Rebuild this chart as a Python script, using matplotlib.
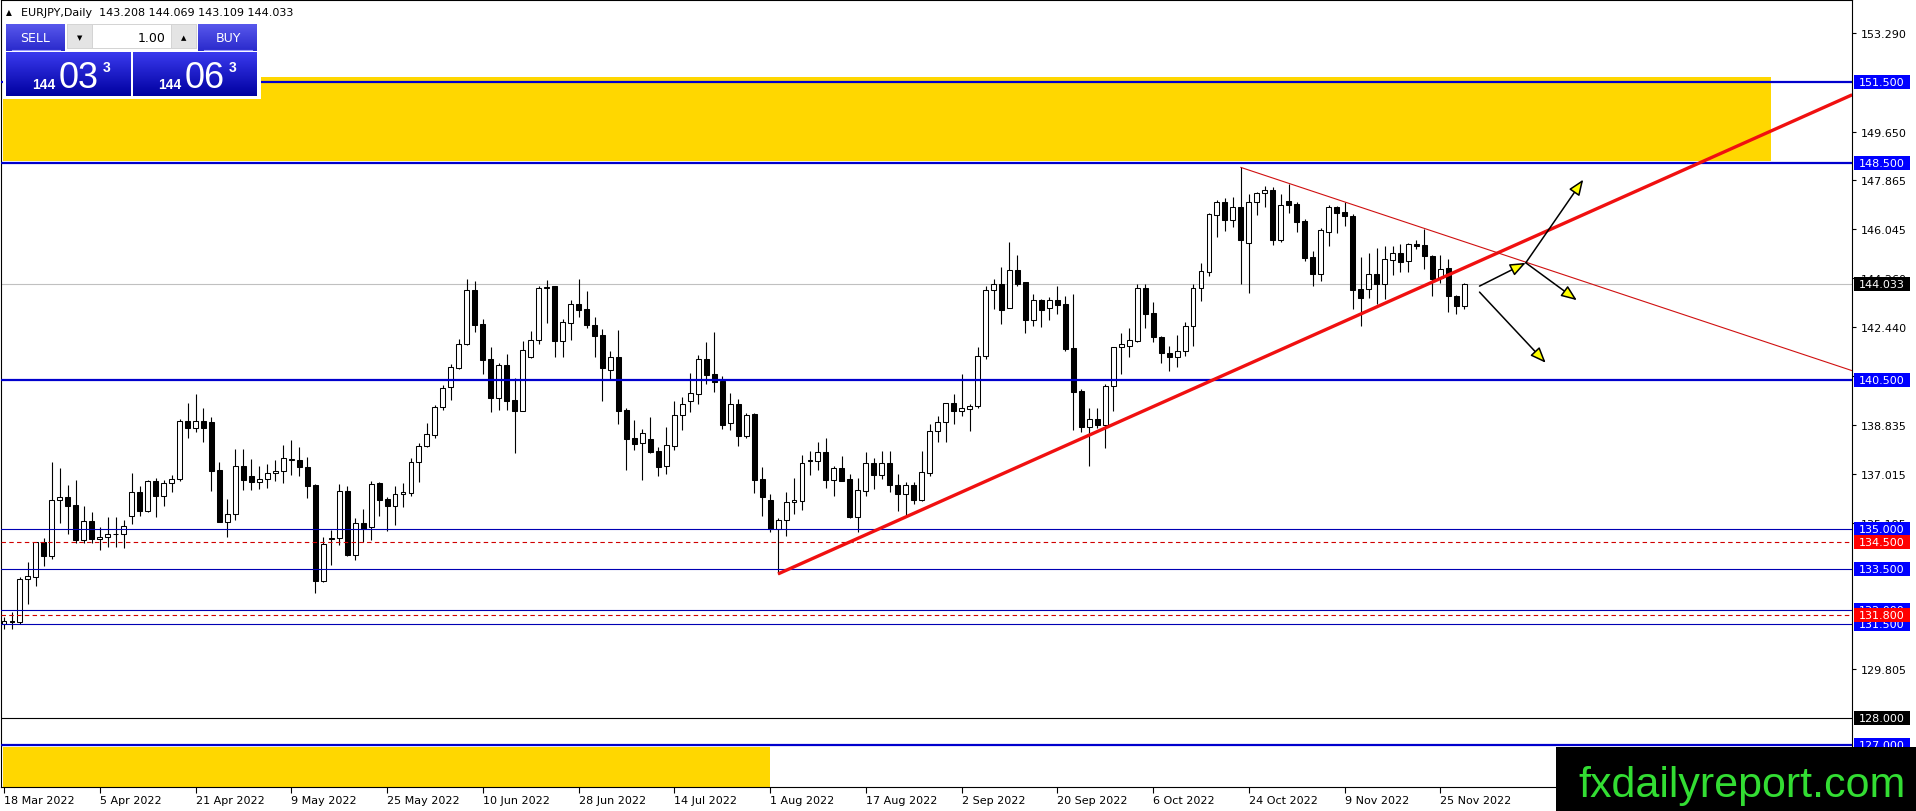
import matplotlib
matplotlib.use('Agg')
import matplotlib.pyplot as plt
from matplotlib.patches import Rectangle
from matplotlib import transforms, font_manager
import numpy as np

# daily candles EURJPY, 18 Mar 2022 .. 30 Nov 2022 (bar index 0..183)
opens = [131.48, 131.60, 131.54, 133.16, 133.23, 134.49, 134.00, 136.05, 136.15, 135.87,
         134.59, 135.27, 134.62, 134.71, 134.79, 134.79, 135.48, 136.34, 135.66, 136.76,
         136.21, 136.67, 136.83, 138.96, 138.71, 138.99, 138.92, 137.16, 135.23, 135.53,
         137.30, 136.95, 136.71, 136.83, 137.05, 137.12, 137.54, 137.53, 137.26, 136.61,
         133.08, 134.63, 134.64, 136.38, 134.04, 135.20, 135.05, 136.69, 136.09, 135.82,
         136.27, 136.30, 137.45, 138.04, 138.47, 139.49, 140.21, 140.93, 141.80, 143.81,
         142.55, 141.26, 139.81, 141.04, 139.73, 139.35, 141.35, 141.96, 143.88, 143.94,
         141.94, 142.58, 143.29, 143.10, 142.53, 142.15, 140.85, 141.32, 139.38, 138.35,
         138.15, 138.31, 137.88, 137.30, 138.06, 139.19, 139.72, 139.97, 141.26, 140.71,
         140.46, 138.89, 139.60, 138.43, 139.23, 136.83, 136.07, 134.99, 135.32, 135.97,
         136.03, 137.50, 137.51, 137.82, 136.81, 137.23, 136.83, 135.42, 136.40, 137.42,
         136.99, 137.42, 136.61, 136.28, 136.61, 136.07, 137.05, 138.59, 138.92, 139.62,
         139.35, 139.41, 139.53, 141.36, 143.80, 144.01, 143.16, 144.54, 144.09, 142.70,
         143.45, 143.13, 143.45, 143.29, 141.65, 140.09, 138.76, 139.04, 138.83, 140.25,
         141.69, 141.75, 141.93, 143.88, 142.95, 142.06, 141.47, 141.32, 141.54, 142.47,
         143.87, 144.48, 146.59, 147.04, 146.40, 146.86, 145.53, 147.04, 147.37, 147.50,
         145.66, 147.08, 146.98, 146.37, 145.01, 144.40, 145.96, 146.86, 146.70, 146.55,
         143.84, 143.84, 144.40, 144.03, 144.92, 145.19, 144.89, 145.50, 145.47, 145.07,
         144.24, 144.61, 143.60, 143.208]
highs = [131.75, 131.91, 133.20, 133.78, 134.50, 134.64, 137.47, 137.24, 136.61, 136.79,
         135.82, 135.60, 135.05, 135.42, 135.42, 135.33, 137.05, 136.58, 136.80, 136.86,
         136.79, 136.98, 139.04, 139.63, 139.97, 139.44, 139.13, 137.47, 136.09, 137.94,
         137.94, 137.57, 137.30, 137.38, 137.54, 138.08, 138.27, 138.00, 137.63, 136.65,
         134.70, 134.96, 136.65, 136.59, 135.38, 135.72, 136.77, 136.73, 136.16, 136.56,
         136.67, 137.59, 138.16, 138.90, 139.57, 140.30, 141.08, 142.00, 144.21, 144.13,
         142.74, 141.69, 141.10, 141.44, 140.56, 141.92, 142.31, 143.94, 144.19, 143.96,
         142.74, 143.44, 144.21, 143.78, 142.80, 142.37, 141.57, 142.33, 139.44, 139.01,
         138.68, 139.11, 138.00, 138.74, 139.72, 139.85, 140.74, 141.41, 141.90, 142.27,
         140.64, 140.00, 139.78, 139.26, 139.27, 137.26, 136.28, 135.38, 136.34, 136.87,
         137.72, 137.85, 138.21, 138.33, 137.32, 137.67, 137.02, 136.87, 137.84, 137.60,
         137.87, 137.87, 137.01, 136.73, 136.73, 137.87, 138.88, 139.14, 139.65, 139.97,
         140.70, 139.60, 141.69, 143.94, 144.23, 144.64, 145.56, 145.09, 144.12, 143.66,
         143.47, 143.53, 143.96, 143.57, 143.66, 140.15, 139.44, 139.47, 140.33, 141.72,
         142.22, 142.39, 144.02, 144.02, 143.37, 142.12, 141.75, 142.15, 142.61, 144.03,
         144.80, 146.65, 147.13, 147.19, 147.23, 148.33, 147.35, 147.44, 147.66, 147.62,
         147.35, 147.72, 147.04, 146.43, 145.26, 146.08, 146.94, 146.92, 147.04, 146.61,
         145.01, 145.17, 145.34, 145.44, 145.44, 145.50, 145.54, 145.66, 146.06, 145.10,
         145.10, 144.95, 143.62, 144.069]
lows = [131.30, 131.29, 131.50, 132.22, 132.87, 133.63, 133.88, 135.21, 134.80, 134.47,
        134.47, 134.47, 134.22, 134.31, 134.33, 134.27, 135.17, 135.45, 135.63, 135.44,
        135.85, 136.37, 136.77, 138.33, 138.58, 138.18, 136.40, 135.23, 134.71, 135.33,
        136.44, 136.44, 136.46, 136.50, 136.77, 136.67, 136.98, 136.95, 136.12, 132.61,
        133.02, 133.66, 134.40, 134.00, 133.86, 134.50, 134.59, 135.48, 134.93, 135.15,
        135.79, 136.19, 136.73, 138.00, 138.33, 139.39, 139.76, 140.89, 141.78, 142.27,
        140.71, 139.32, 139.39, 139.39, 137.78, 139.35, 141.28, 141.81, 142.59, 141.35,
        141.35, 141.97, 142.80, 142.40, 141.32, 139.72, 140.52, 138.86, 137.18, 137.91,
        136.81, 137.79, 136.95, 137.02, 137.91, 138.65, 139.32, 139.60, 140.34, 140.03,
        138.68, 138.65, 138.06, 138.34, 136.30, 135.48, 134.89, 133.33, 134.74, 135.54,
        135.70, 136.98, 137.18, 136.50, 136.22, 136.77, 135.38, 134.86, 136.22, 136.46,
        136.85, 136.34, 135.66, 135.48, 135.91, 136.03, 136.95, 138.18, 138.21, 138.86,
        139.17, 138.61, 139.47, 141.26, 143.10, 142.55, 143.16, 143.96, 142.22, 142.49,
        142.43, 142.71, 142.92, 141.56, 138.65, 138.55, 137.32, 138.70, 137.98, 139.35,
        140.70, 141.32, 141.90, 142.39, 141.90, 141.13, 140.83, 140.95, 141.36, 141.73,
        143.41, 144.31, 145.77, 146.00, 146.14, 144.03, 143.70, 146.59, 146.88, 145.47,
        145.57, 146.65, 145.93, 144.89, 143.97, 144.15, 145.42, 145.91, 146.18, 143.11,
        142.49, 143.50, 143.29, 143.47, 144.36, 144.48, 144.48, 145.32, 144.58, 143.60,
        144.06, 142.98, 142.92, 143.109]
closes = [131.60, 131.56, 133.16, 133.26, 134.49, 134.00, 136.05, 136.15, 135.85, 134.59,
          135.27, 134.62, 134.71, 134.80, 134.80, 135.08, 136.34, 135.66, 136.76, 136.21,
          136.67, 136.85, 138.96, 138.71, 138.99, 138.71, 137.14, 135.23, 135.53, 137.30,
          136.81, 136.73, 136.83, 137.05, 137.12, 137.59, 137.56, 137.26, 136.59, 133.08,
          134.43, 134.65, 136.38, 134.03, 135.20, 134.99, 136.64, 136.07, 135.82, 136.27,
          136.34, 137.45, 138.04, 138.48, 139.49, 140.18, 140.95, 141.80, 143.81, 142.53,
          141.24, 139.81, 141.04, 139.72, 139.35, 141.59, 141.96, 143.87, 143.90, 141.94,
          142.64, 143.29, 143.08, 142.53, 142.12, 140.92, 141.32, 139.35, 138.31, 138.12,
          138.53, 137.84, 137.29, 138.09, 139.19, 139.60, 140.00, 141.26, 140.67, 140.42,
          138.84, 139.60, 138.43, 139.21, 136.81, 136.16, 134.99, 135.32, 135.97, 136.06,
          137.42, 137.53, 137.82, 136.81, 137.23, 136.77, 135.42, 136.43, 137.42, 136.99,
          137.42, 136.61, 136.28, 136.61, 136.07, 137.08, 138.59, 138.92, 139.62, 139.35,
          139.47, 139.51, 141.36, 143.80, 144.01, 143.08, 144.54, 144.02, 142.71, 143.45,
          143.08, 143.45, 143.26, 141.63, 140.05, 138.76, 139.04, 138.83, 140.25, 141.69,
          141.81, 141.96, 143.88, 142.92, 142.06, 141.47, 141.32, 141.54, 142.47, 143.87,
          144.52, 146.61, 147.04, 146.40, 146.86, 145.66, 147.04, 147.39, 147.50, 145.66,
          146.94, 146.96, 146.33, 144.98, 144.40, 146.03, 146.86, 146.65, 146.53, 143.82,
          143.51, 144.40, 144.03, 144.95, 145.19, 144.85, 145.49, 145.42, 145.05, 144.21,
          144.60, 143.57, 143.20, 144.033]

date_ticks = [0, 12, 24, 36, 48, 60, 72, 84, 96, 108, 120, 132, 144, 156, 168, 180]
date_labels = ['18 Mar 2022', '5 Apr 2022', '21 Apr 2022', '9 May 2022', '25 May 2022',
               '10 Jun 2022', '28 Jun 2022', '14 Jul 2022', '1 Aug 2022', '17 Aug 2022',
               '2 Sep 2022', '20 Sep 2022', '6 Oct 2022', '24 Oct 2022', '9 Nov 2022',
               '25 Nov 2022']
price_ticks = [153.290, 149.650, 147.865, 146.045, 144.260, 142.440, 140.620,
               138.835, 137.015, 135.195, 129.805]

# horizontal levels: value, colour, width, style
levels = [(151.5, '#0000CD', 1.6, '-'), (148.5, '#0000CD', 1.6, '-'),
          (140.5, '#0000CD', 1.6, '-'), (135.0, '#0000B4', 0.8, '-'),
          (134.5, '#D00000', 0.8, (0, (4, 3))), (133.5, '#0000B4', 0.8, '-'),
          (132.0, '#0000B4', 0.8, '-'), (131.8, '#D00000', 0.8, (0, (4, 3))),
          (131.5, '#0000B4', 0.8, '-'), (128.0, 'black', 0.8, '-'),
          (127.0, '#0000CD', 1.6, '-')]
# price boxes on the right axis, drawn in this order
level_boxes = [(151.5, '#0000FF'), (148.5, '#0000FF'), (144.033, 'black'),
               (140.5, '#0000FF'), (135.0, '#0000FF'), (134.5, '#FF0000'),
               (133.5, '#0000FF'), (132.0, '#0000FF'), (131.5, '#0000FF'),
               (131.8, '#FF0000'), (128.0, 'black'), (127.0, '#0000FF')]
last_price = 144.033

# zones (bar from, bar to, price low, price high)
zones = [(-0.1, 221.4, 148.57, 151.68), (-0.1, 96.0, 120.0, 126.95)]
# trend lines (bar, price) -> (bar, price)
trend_up = [(97, 133.33), (231.6, 151.01)]
trend_down = [(155, 148.33), (231.6, 140.83)]
arrows = [((184.9, 143.95), (190.7, 144.81)), ((190.7, 144.81), (197.9, 147.88)),
          ((190.7, 144.81), (197.1, 143.43)), ((184.9, 143.73), (193.2, 141.12))]

W, H = 1916, 812
fig = plt.figure(figsize=(W / 100, H / 100), dpi=100)
ax = fig.add_axes([1 / W, (H - 788) / H, 1851 / W, 787 / H])

x = np.arange(len(opens))
o = np.array(opens); c = np.array(closes)

for z in zones:
    ax.add_patch(Rectangle((z[0], z[2]), z[1] - z[0], z[3] - z[2], fc='#FFD700', ec='none', zorder=1))

ax.axhline(last_price, color='#C0C0C0', lw=0.8, zorder=2)

ax.vlines(x, lows, highs, color='black', lw=0.8, zorder=3)
bottoms = np.minimum(o, c)
heights = np.maximum(np.abs(c - o), 0.012)
face = ['white' if cc >= oo else 'black' for oo, cc in zip(o, c)]
ax.bar(x, heights, width=0.62, bottom=bottoms, color=face, edgecolor='black', linewidth=0.75, zorder=4)

for val, col, lw, ls in levels:
    ax.axhline(val, color=col, lw=lw, ls=ls, zorder=5)

ax.plot([trend_up[0][0], trend_up[1][0]], [trend_up[0][1], trend_up[1][1]], color='#F01010', lw=2.4, zorder=6, solid_capstyle='butt')
ax.plot([trend_down[0][0], trend_down[1][0]], [trend_down[0][1], trend_down[1][1]], color='#D01010', lw=0.8, zorder=6)

for (x0, y0), (x1, y1) in arrows:
    ax.annotate('', xy=(x1, y1), xytext=(x0, y0),
                arrowprops=dict(arrowstyle='-|>,head_length=0.95,head_width=0.38',
                                fc='#FFFF00', ec='black', lw=1.1, shrinkA=0, shrinkB=0),
                zorder=7)

ax.set_xlim(-0.376, 231.58)
ax.set_ylim(125.467, 154.508)
for s in ax.spines.values():
    s.set_color('black'); s.set_linewidth(0.8)

ax.yaxis.tick_right()
ax.set_yticks(price_ticks, labels=[f'{v:.3f}' for v in price_ticks])
ax.tick_params(axis='y', length=3, pad=3, labelsize=8, width=0.8)
ax.set_xticks(date_ticks, labels=date_labels, ha='left')
ax.tick_params(axis='x', length=4, pad=2, labelsize=8, width=0.8)

bt = transforms.blended_transform_factory(ax.transAxes, ax.transData)
px = 1 / 1851
half = 7 / 27.1
for k, (val, fc) in enumerate(level_boxes):
    ax.add_patch(Rectangle((1 + 2 * px, val - half), 56 * px, 2 * half, transform=bt,
                           fc=fc, ec='none', clip_on=False, zorder=10 + 2 * k))
    ax.text(1 + 7 * px, val, f'{val:.3f}', transform=bt, color='white', fontsize=8,
            va='center', ha='left', clip_on=False, zorder=11 + 2 * k)

# overlay in pixel coordinates for the trade panel, header and watermark
ov = fig.add_axes([0, 0, 1, 1])
ov.axis('off')


def grad(x0, y0, x1, y1, top, bot):
    t = np.linspace(0, 1, 60)[:, None, None]
    a = np.array(matplotlib.colors.to_rgb(top)); b = np.array(matplotlib.colors.to_rgb(bot))
    img = a * (1 - t) + b * t
    ov.imshow(img, extent=(x0, x1, y1, y0), aspect='auto', interpolation='bilinear', zorder=2)


names = {f.name for f in font_manager.fontManager.ttflist}
narrow = 'Liberation Sans Narrow' in names
big_family = ['Liberation Sans Narrow'] if narrow else ['Liberation Sans']
big_size = 30 if narrow else 26

ov.add_patch(Rectangle((3, 22), 258, 78, fc='white', ec='none', zorder=1))
grad(6, 25, 65, 52, '#5858EC', '#2A2ACC')
grad(198, 25, 257, 52, '#5858EC', '#2A2ACC')
ov.plot([12, 60], [51, 51], color='#9A9AFF', lw=0.8, zorder=3)
ov.plot([204, 252], [51, 51], color='#9A9AFF', lw=0.8, zorder=3)
ov.text(35, 38.5, 'SELL', color='white', fontsize=9, ha='center', va='center', zorder=4)
ov.text(228, 38.5, 'BUY', color='white', fontsize=9, ha='center', va='center', zorder=4)
ov.add_patch(Rectangle((67, 25), 130, 25, fc='#D4D4D4', ec='none', zorder=2))
ov.add_patch(Rectangle((68, 26), 24, 23, fc='#E4E4E4', ec='none', zorder=3))
ov.add_patch(Rectangle((93, 26), 78, 23, fc='white', ec='none', zorder=3))
ov.add_patch(Rectangle((172, 26), 24, 23, fc='#E4E4E4', ec='none', zorder=3))
ov.text(80, 38, '▼', fontsize=5, ha='center', va='center', zorder=4)
ov.text(184, 38, '▲', fontsize=5, ha='center', va='center', zorder=4)
ov.text(166, 38, '1.00', fontsize=9, ha='right', va='center', zorder=4)
grad(6, 53, 131, 97, '#3A3AEE', '#0000A0')
grad(133, 53, 257, 97, '#3A3AEE', '#0000A0')
for x0, big in [(32, '03'), (158, '06')]:
    ov.text(x0, 89, '144', color='white', fontsize=10, fontweight='bold',
            family='Liberation Sans', va='baseline', zorder=4)
    ov.text(x0 + 27, 88.5, big, color='white', fontsize=big_size, family=big_family,
            va='baseline', zorder=4)
    ov.text(x0 + 71, 72, '3', color='white', fontsize=10, fontweight='bold',
            family='Liberation Sans', va='baseline', zorder=4)

ov.text(6, 13, '▲', fontsize=5.5, va='center', zorder=4)
ov.text(21, 13, 'EURJPY,Daily  143.208 144.069 143.109 144.033', fontsize=8, va='center', zorder=4)

ov.add_patch(Rectangle((1556, 748), 360, 64, fc='black', ec='none', zorder=5))
ov.text(1742, 786, 'fxdailyreport.com', color='#33DD33', fontsize=31, family='Liberation Sans',
        ha='center', va='center', zorder=6)

ov.set_xlim(0, W)
ov.set_ylim(H, 0)

fig.savefig('out.png', dpi=100)
